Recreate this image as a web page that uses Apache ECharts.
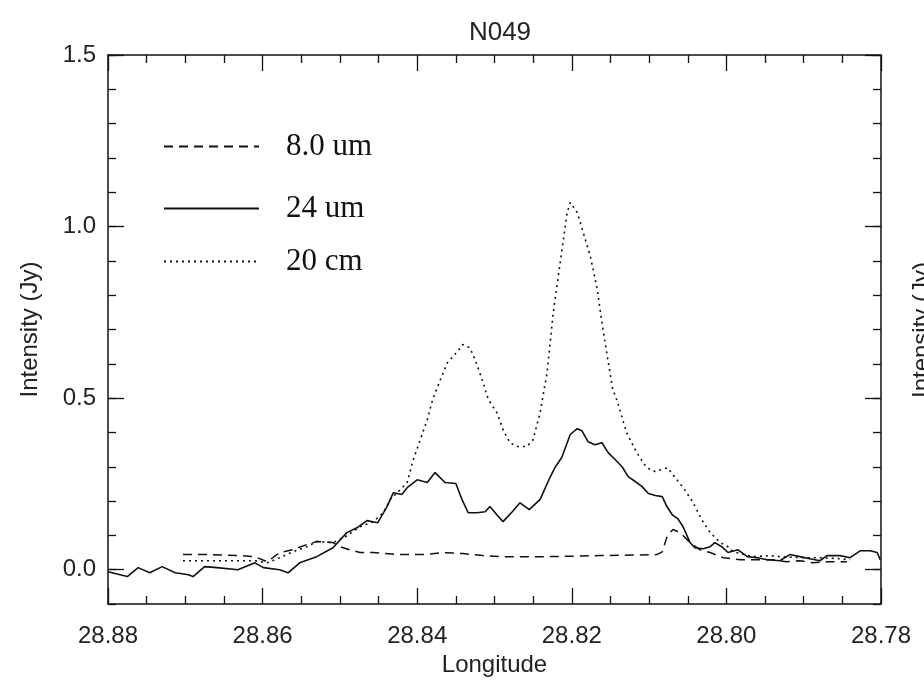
<!DOCTYPE html>
<html>
<head>
<meta charset="utf-8">
<script src="https://cdn.jsdelivr.net/npm/echarts@6/dist/echarts.min.js"></script>
<style>
  html, body { margin: 0; padding: 0; background: #fff; }
  #main { width: 924px; height: 682px; }
</style>
</head>
<body>
<div id="main"></div>
<script>
// 24 um profile
const lon24 = [28.8800, 28.8775, 28.8761, 28.8746, 28.8730, 28.8713, 28.8696, 28.8690, 28.8675, 28.8659,
  28.8632, 28.8610, 28.8599, 28.8578, 28.8567, 28.8552, 28.8530, 28.8509, 28.8491, 28.8478,
  28.8465, 28.8451, 28.8439, 28.8431, 28.8420, 28.8413, 28.8400, 28.8387, 28.8377, 28.8364,
  28.8350, 28.8342, 28.8334, 28.8323, 28.8312, 28.8306, 28.8297, 28.8289, 28.8277, 28.8267,
  28.8255, 28.8241, 28.8228, 28.8222, 28.8213, 28.8202, 28.8193, 28.8187, 28.8179, 28.8170,
  28.8161, 28.8153, 28.8144, 28.8135, 28.8127, 28.8118, 28.8109, 28.8101, 28.8092, 28.8083,
  28.8077, 28.8070, 28.8063, 28.8056, 28.8047, 28.8041, 28.8030, 28.8021, 28.8015, 28.8006,
  28.7998, 28.7985, 28.7973, 28.7960, 28.7947, 28.7931, 28.7918, 28.7905, 28.7892, 28.7879,
  28.7870, 28.7853, 28.7840, 28.7827, 28.7814, 28.7805, 28.7801];
const val24 = [-0.006, -0.020, 0.006, -0.009, 0.009, -0.009, -0.015, -0.020, 0.009, 0.006,
  0.000, 0.020, 0.006, 0.000, -0.009, 0.020, 0.038, 0.064, 0.108, 0.122,
  0.143, 0.137, 0.184, 0.224, 0.219, 0.239, 0.262, 0.254, 0.283, 0.254,
  0.251, 0.204, 0.166, 0.166, 0.169, 0.184, 0.160, 0.140, 0.169, 0.195,
  0.175, 0.205, 0.270, 0.297, 0.327, 0.394, 0.411, 0.405, 0.373, 0.364,
  0.370, 0.341, 0.321, 0.300, 0.271, 0.257, 0.242, 0.222, 0.216, 0.213,
  0.184, 0.160, 0.149, 0.125, 0.079, 0.064, 0.061, 0.067, 0.079, 0.067,
  0.050, 0.058, 0.038, 0.035, 0.029, 0.026, 0.044, 0.038, 0.032, 0.026,
  0.041, 0.041, 0.035, 0.055, 0.055, 0.050, 0.029];

// 20 cm profile
const lon20 = [28.8703, 28.8668, 28.8629, 28.8610, 28.8594, 28.8578, 28.8561, 28.8543, 28.8530, 28.8509,
  28.8493, 28.8474, 28.8457, 28.8444, 28.8435, 28.8422, 28.8413, 28.8405, 28.8396, 28.8387,
  28.8380, 28.8370, 28.8361, 28.8349, 28.8341, 28.8332, 28.8325, 28.8316, 28.8308, 28.8297,
  28.8289, 28.8280, 28.8271, 28.8258, 28.8250, 28.8241, 28.8232, 28.8224, 28.8215, 28.8206,
  28.8202, 28.8193, 28.8189, 28.8176, 28.8167, 28.8161, 28.8154, 28.8147, 28.8142, 28.8129,
  28.8116, 28.8103, 28.8092, 28.8076, 28.8064, 28.8054, 28.8043, 28.8032, 28.8021, 28.8008,
  28.7998, 28.7991, 28.7966, 28.7944, 28.7931, 28.7905, 28.7879, 28.7853, 28.7840];
const val20 = [0.026, 0.026, 0.026, 0.026, 0.020, 0.035, 0.052, 0.067, 0.082, 0.079,
  0.096, 0.125, 0.140, 0.166, 0.204, 0.233, 0.254, 0.321, 0.379, 0.437,
  0.496, 0.554, 0.603, 0.633, 0.656, 0.647, 0.612, 0.554, 0.496, 0.458,
  0.408, 0.370, 0.359, 0.359, 0.379, 0.458, 0.574, 0.749, 0.895, 1.041,
  1.070, 1.041, 1.012, 0.913, 0.816, 0.720, 0.621, 0.525, 0.496, 0.399,
  0.341, 0.297, 0.286, 0.297, 0.262, 0.233, 0.195, 0.146, 0.108, 0.079,
  0.067, 0.052, 0.038, 0.041, 0.038, 0.035, 0.035, 0.032, 0.029];

// 8.0 um profile
const lon8 = [28.8703, 28.8668, 28.8629, 28.8610, 28.8594, 28.8578, 28.8561, 28.8543, 28.8530, 28.8509,
  28.8500, 28.8487, 28.8474, 28.8457, 28.8426, 28.8392, 28.8367, 28.8341, 28.8315, 28.8289,
  28.8254, 28.8232, 28.8164, 28.8090, 28.8083, 28.8076, 28.8069, 28.8060, 28.8047, 28.8034,
  28.8021, 28.8004, 28.7982, 28.7960, 28.7940, 28.7922, 28.7905, 28.7888, 28.7870, 28.7844];
const val8 = [0.044, 0.044, 0.041, 0.038, 0.023, 0.050, 0.058, 0.073, 0.082, 0.079,
  0.067, 0.058, 0.050, 0.050, 0.044, 0.044, 0.050, 0.047, 0.041, 0.038,
  0.038, 0.038, 0.041, 0.044, 0.052, 0.102, 0.117, 0.108, 0.079, 0.058,
  0.050, 0.035, 0.029, 0.029, 0.029, 0.023, 0.026, 0.020, 0.023, 0.023];

const names = ['8.0 um', '24 um', '20 cm'];
const yMajor = [0, 0.5, 1.0, 1.5];

const pairs = (xs, ys) => xs.map((x, i) => [x, ys[i]]);

const sans = 'Liberation Sans';
const serif = 'Liberation Serif';
const ink = '#111';

const xBase = {
  type: 'value', min: 28.78, max: 28.88, interval: 0.02, inverse: true,
  axisLine: { show: true, onZero: false, lineStyle: { color: ink, width: 1.5 } },
  axisTick: { show: true, inside: true, length: 16, lineStyle: { color: ink, width: 1.3 } },
  minorTick: { show: true, splitNumber: 4, length: 8, lineStyle: { color: ink, width: 1.3 } },
  splitLine: { show: false }, minorSplitLine: { show: false }
};
const yBase = {
  type: 'value', min: -0.1, max: 1.5, interval: 0.1,
  axisLine: { show: true, onZero: false, lineStyle: { color: ink, width: 1.5 } },
  axisTick: { show: true, inside: true, length: 8, lineStyle: { color: ink, width: 1.3 } },
  axisLabel: { show: false },
  splitLine: { show: false }
};
// long ticks at 0.0 / 0.5 / 1.0 / 1.5
const yLong = {
  type: 'value', min: -0.1, max: 1.5, interval: 0.1,
  axisLine: { show: false },
  axisTick: { show: true, inside: true, length: 16, customValues: yMajor, lineStyle: { color: ink, width: 1.3 } },
  axisLabel: { show: false },
  splitLine: { show: false }
};

// one legend per entry, since the rows are not evenly spaced
const legendAt = (name, top) => ({
  data: [name], left: 163, top: top, padding: 0, orient: 'vertical',
  itemWidth: 95, itemHeight: 14, selectedMode: false,
  itemStyle: { opacity: 0 },
  textStyle: { fontFamily: serif, fontSize: 31, color: ink, padding: [0, 0, 0, 22] }
});

const chart = echarts.init(document.getElementById('main'));
chart.setOption({
  animation: false,
  backgroundColor: '#fff',
  title: {
    text: 'N049', left: 495, top: 15, textAlign: 'center',
    textStyle: { fontFamily: sans, fontSize: 26, fontWeight: 'normal', color: '#222' }
  },
  legend: [
    legendAt('8.0 um', 131),
    legendAt('24 um', 193),
    legendAt('20 cm', 246)
  ],
  grid: { left: 108, right: 43, top: 55, bottom: 78, containLabel: false },
  xAxis: [
    Object.assign({}, xBase, {
      position: 'bottom',
      axisLabel: { show: true, margin: 20, fontFamily: sans, fontSize: 24, color: '#222',
        formatter: v => v.toFixed(2) },
      name: 'Longitude', nameLocation: 'middle', nameGap: 44,
      nameTextStyle: { fontFamily: sans, fontSize: 24, color: '#222' }
    }),
    Object.assign({}, xBase, { position: 'top', axisLabel: { show: false } })
  ],
  yAxis: [
    Object.assign({}, yBase, {
      position: 'left',
      axisLabel: { show: true, margin: 12, fontFamily: sans, fontSize: 24, color: '#222',
        formatter: v => (Math.abs(v * 2 - Math.round(v * 2)) < 1e-6 && v > -0.01) ? v.toFixed(1) : '' },
      name: 'Intensity (Jy)', nameLocation: 'middle', nameGap: 66,
      nameTextStyle: { fontFamily: sans, fontSize: 24, color: '#222' }
    }),
    Object.assign({}, yLong, { position: 'left' }),
    Object.assign({}, yBase, { position: 'right' }),
    Object.assign({}, yLong, { position: 'right' })
  ],
  // label of the neighbouring panel, cut off by the page edge
  graphic: [{
    type: 'text', x: 922, y: 330, rotation: Math.PI / 2,
    style: { text: 'Intensity (Jy)', fontFamily: sans, fontSize: 24, fill: '#222',
      align: 'center', verticalAlign: 'middle' }
  }],
  series: [
    { name: names[0], type: 'line', symbol: 'none', data: pairs(lon8, val8),
      lineStyle: { color: ink, width: 1.5, type: [9, 6] }, itemStyle: { color: ink } },
    { name: names[1], type: 'line', symbol: 'none', data: pairs(lon24, val24),
      lineStyle: { color: ink, width: 1.6, type: 'solid' }, itemStyle: { color: ink } },
    { name: names[2], type: 'line', symbol: 'none', data: pairs(lon20, val20),
      lineStyle: { color: ink, width: 1.6, type: [2, 4] }, itemStyle: { color: ink } }
  ]
});
</script>
</body>
</html>
